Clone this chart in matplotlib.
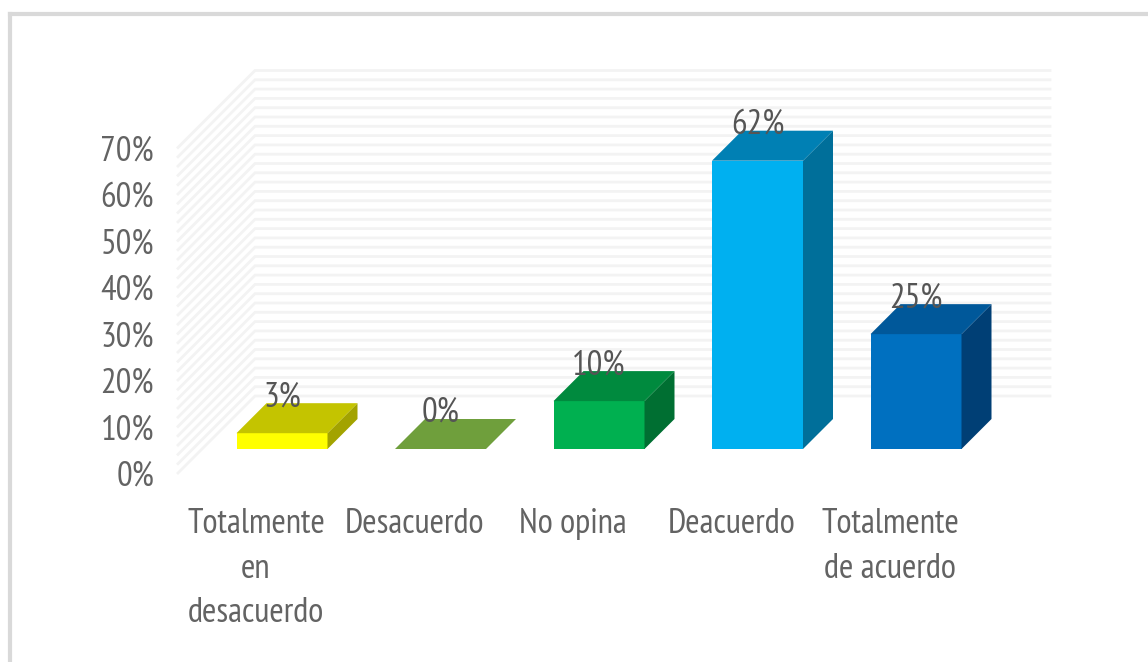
import matplotlib
matplotlib.use('Agg')
import matplotlib.pyplot as plt
from matplotlib.patches import Polygon

# data
categorias = ['Totalmente\nen\ndesacuerdo', 'Desacuerdo', 'No opina', 'Deacuerdo', 'Totalmente\nde acuerdo']
valores = [3.4, 0, 10.3, 62, 24.7]
etiquetas = ['3%', '0%', '10%', '62%', '25%']
ticks_y = [0, 10, 20, 30, 40, 50, 60, 70]
lineas_pared = list(range(0, 71, 2))

# front, top, side colours
frente = ['#FFFF00', '#70AD47', '#00B050', '#00B0F0', '#0070C0']
arriba = ['#C4C400', '#6F9F3C', '#008A3E', '#0080B4', '#00589A']
lado = ['#A3A300', '#5E8A32', '#006F32', '#006F9A', '#003F75']

W, H = 1148, 662
px_x = 158.5          # pixels per category
px_y = 4.65           # pixels per percent
x0_px, y0_px = 282, 449

plt.rcParams['font.family'] = ['PT Sans Narrow', 'Pragati Narrow', 'Archivo Narrow', 'Roboto', 'DejaVu Sans']
TAM = 25
GRIS = '#636363'

fig = plt.figure(figsize=(W / 100, H / 100), dpi=100)
ax = fig.add_axes([0, 0, 1, 1])
ax.set_xlim(-x0_px / px_x, (W - x0_px) / px_x)
ax.set_ylim((y0_px - H) / px_y, y0_px / px_y)
ax.axis('off')

# grey frame of the picture
borde = '#D9D9D9'
ax.plot([9.5 / W, 9.5 / W], [0, 1 - 13.5 / H], transform=ax.transAxes, color=borde, lw=3)
ax.plot([9.5 / W, 1], [1 - 13.5 / H, 1 - 13.5 / H], transform=ax.transAxes, color=borde, lw=3)

ancho = 91 / px_x
prof_x = 30 / px_x
prof_y = 30 / px_y

# walls of the 3d box
pared_x = (178 - x0_px) / px_x
pared_dx = 77 / px_x
pared_dy = 77 / px_y
pared_fin = (1050 - x0_px) / px_x
suelo = -24 / px_y
for v in lineas_pared:
    y = v + suelo
    ax.plot([pared_x, pared_x + pared_dx, pared_fin], [y, y + pared_dy, y + pared_dy],
            color='#F3F3F3', lw=2, solid_joinstyle='miter', zorder=1)

# bars
for i, v in enumerate(valores):
    x1 = i - ancho / 2
    x2 = i + ancho / 2
    if v > 0:
        ax.add_patch(Polygon([(x1, 0), (x2, 0), (x2, v), (x1, v)], fc=frente[i], ec='none', zorder=3))
        ax.add_patch(Polygon([(x2, 0), (x2 + prof_x, prof_y), (x2 + prof_x, v + prof_y), (x2, v)],
                             fc=lado[i], ec='none', zorder=3))
    ax.add_patch(Polygon([(x1, v), (x2, v), (x2 + prof_x, v + prof_y), (x1 + prof_x, v + prof_y)],
                         fc=arriba[i], ec='none', zorder=3))
    ax.text(i, v + 36 / px_y, etiquetas[i], ha='center', va='center', fontsize=TAM,
            color='#555555', zorder=4)

# y labels
x_ticks = (154 - x0_px) / px_x
for t in ticks_y:
    ax.text(x_ticks, t + suelo - 4 / px_y, '%d%%' % t, ha='right', va='center', fontsize=TAM, color=GRIS)

# category labels
desplaza = -26 / px_x
y_cat = (y0_px - 508) / px_y
for i, c in enumerate(categorias):
    ax.text(i + desplaza, y_cat, c, ha='center', va='top', fontsize=TAM, color=GRIS, linespacing=1.5)

plt.savefig('out.png', dpi=100)
